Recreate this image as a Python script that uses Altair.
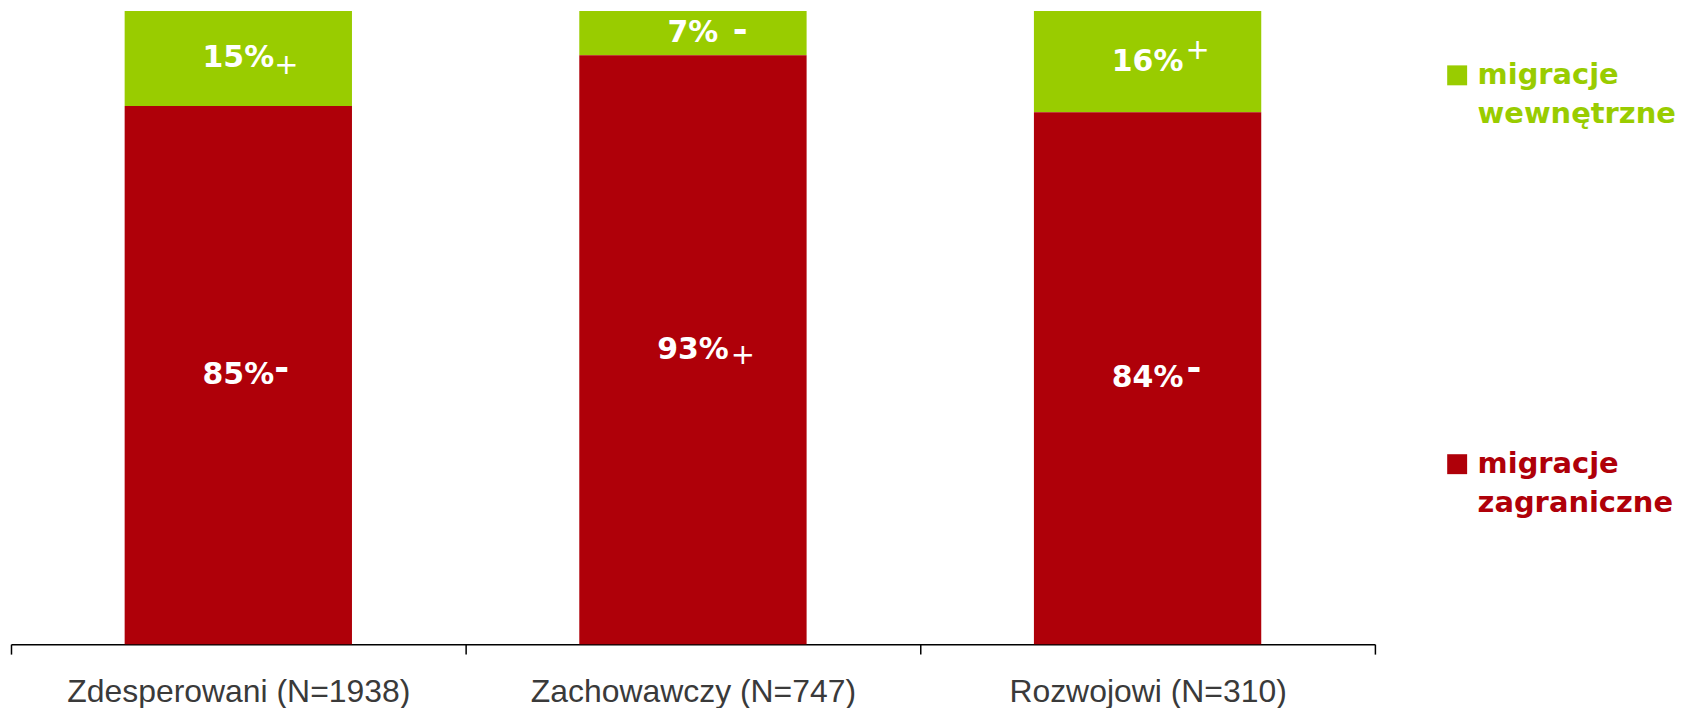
import altair as alt
import pandas as pd

categories = ["Zdesperowani (N=1938)", "Zachowawczy (N=747)", "Rozwojowi (N=310)"]
series_names = ["migracje wewnętrzne", "migracje zagraniczne"]
internal = [15, 7, 16]
foreign = [85, 93, 84]
internal_signs = ["+", "-", "+"]
foreign_signs = ["-", "+", "-"]

GREEN = "#99CC00"
RED = "#AF0009"

rows = []
for i, c in enumerate(categories):
    rows.append({"cat": c, "series": series_names[0], "value": internal[i],
                 "label": f"{internal[i]}%", "sign": internal_signs[i], "stackorder": 1})
    rows.append({"cat": c, "series": series_names[1], "value": foreign[i],
                 "label": f"{foreign[i]}%", "sign": foreign_signs[i], "stackorder": 0})
df = pd.DataFrame(rows)

# sign placement style: (category index, series index) -> (dx, dy)
SIGN_STYLE = {
    (0, 0): (36, 7), (0, 1): (36, -6),
    (1, 0): (40, -2), (1, 1): (38, 5),
    (2, 0): (38, -12), (2, 1): (39, -9),
}

x = alt.X(
    "cat:N", sort=categories,
    scale=alt.Scale(paddingInner=0, paddingOuter=0),
    axis=alt.Axis(title=None, labelAngle=0, tickBand="extent", labelFont="Liberation Sans",
                  labelFontSize=32, labelColor="#3A3A3A", labelPadding=23, labelLimit=0,
                  domainColor="black", domainWidth=1.5, tickColor="black", tickWidth=1.5,
                  tickSize=10, grid=False),
)
yscale = alt.Scale(domain=[0, 100], nice=False)

base = alt.Chart(df).transform_stack(
    stack="value", groupby=["cat"],
    sort=[alt.SortField("stackorder", order="ascending")],
    as_=["v0", "v1"],
).transform_calculate(mid="(datum.v0 + datum.v1) / 2")

bars = base.mark_bar(width=alt.RelativeBandSize(0.5)).encode(
    x=x,
    y=alt.Y("v0:Q", scale=yscale, axis=None),
    y2="v1:Q",
    color=alt.Color(
        "series:N",
        scale=alt.Scale(domain=series_names, range=[GREEN, RED]),
        legend=alt.Legend(
            title=None, orient="none", legendX=1436, legendY=59, direction="vertical",
            symbolType="M-1,-1.9H1V0.1H-1Z", symbolSize=400, symbolStrokeWidth=0,
            symbolOpacity=1,
            labelFont="DejaVu Sans", labelFontWeight="bold", labelFontSize=29,
            labelBaseline="alphabetic",
            labelExpr="split(datum.label, ' ')",
            labelColor=alt.ExprRef(expr=f"datum.value == '{series_names[0]}' ? '{GREEN}' : '{RED}'"),
            labelOffset=6, rowPadding=321, padding=0, labelLimit=0,
        ),
    ),
)

texts = base.mark_text(font="DejaVu Sans", fontWeight="bold", fontSize=30, color="white",
                       baseline="middle", align="center").encode(
    x=x, y=alt.Y("mid:Q", scale=yscale), text="label:N")

layers = [bars, texts]
for (ci, si), (dx, dy) in SIGN_STYLE.items():
    sgn = (internal_signs if si == 0 else foreign_signs)[ci]
    if sgn == "+":
        mk = dict(font="DejaVu Sans", fontWeight="normal", fontSize=29)
    else:
        mk = dict(font="DejaVu Sans", fontWeight="bold", fontSize=36)
    layer = base.transform_filter(
        (alt.datum.cat == categories[ci]) & (alt.datum.series == series_names[si])
    ).mark_text(color="white", baseline="middle", align="left", dx=dx, dy=dy, **mk).encode(
        x=x, y=alt.Y("mid:Q", scale=yscale), text="sign:N")
    layers.append(layer)

chart = alt.layer(*layers).properties(
    width=1368, height=635,
    autosize=alt.AutoSizeParams(type="none"),
    padding={"left": 3, "top": 2, "right": 303, "bottom": 63},
    background="white",
).configure(
    style={"guide-label": alt.MarkConfig(lineHeight=39)}
).configure_view(stroke=None)

chart.save("out.html", embed_options={"renderer": "svg", "actions": False})
